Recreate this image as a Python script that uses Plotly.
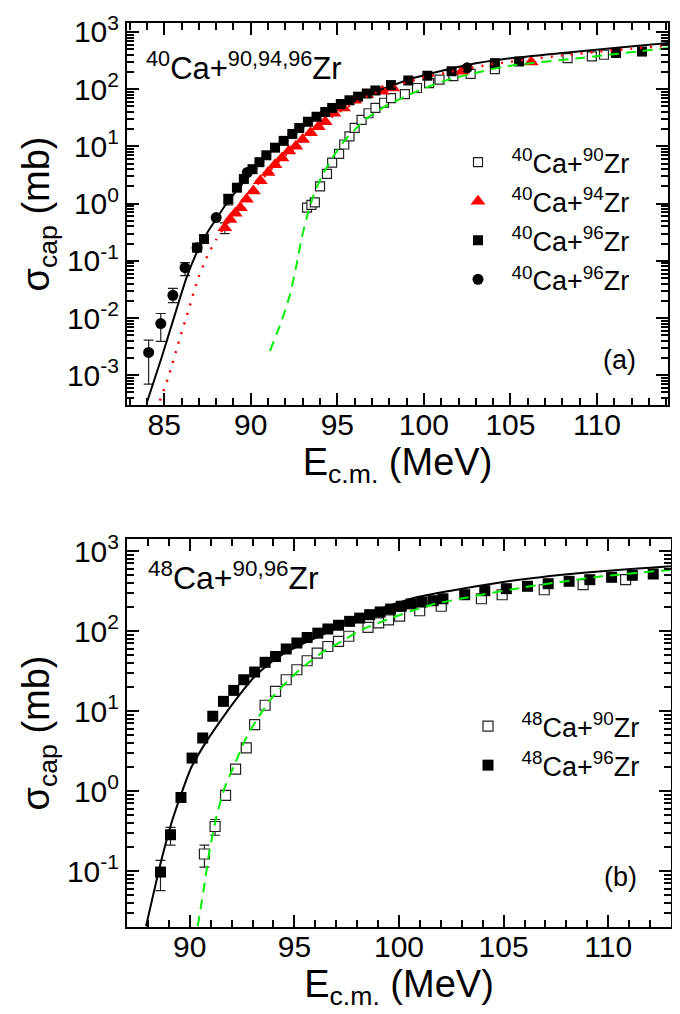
import plotly.graph_objects as go

# ---------------- Panel (a): 40Ca + 90,94,96Zr ----------------
a_zr90_E = [93.25, 93.5, 93.7, 94.0, 94.4, 94.7, 95.1, 95.4, 95.7, 96.0, 96.4, 96.8, 97.2,
            97.7, 98.1, 98.9, 99.6, 100.3, 100.9, 101.7, 102.7, 104.1, 108.3, 109.7, 110.4]
a_zr90_s = [0.85, 0.95, 1.05, 2.0, 3.3, 5.2, 7.4, 10.8, 15, 21, 29, 38, 47,
            58, 70, 82, 105, 128, 147, 169, 185, 225, 350, 376, 400]

a_zr94_E = [88.5, 88.8, 89.1, 89.4, 89.75, 90.15, 90.55, 91.0, 91.4, 91.8, 92.2, 92.6, 93.0,
            93.45, 93.9, 94.3, 94.8, 95.35, 96.0, 96.7, 97.6, 98.2, 102.2, 106.2]
a_zr94_s = [0.38, 0.53, 0.68, 0.85, 1.19, 1.66, 2.5, 3.5, 4.8, 6.3, 8.3, 10.1, 13.2,
            17.3, 22, 27, 38, 47, 64, 80, 92, 105, 206, 300]
a_zr94_ep = [0.08] + [0] * 23
a_zr94_em = [0.08] + [0] * 23

a_zr96sq_E = [86.9, 87.3, 88.7, 89.2, 89.6, 90.1, 90.5, 90.9, 91.4, 91.9, 92.4, 92.8, 93.3,
              93.8, 94.3, 94.7, 95.2, 95.7, 96.2, 96.7, 97.2, 98.1, 99.1, 100.2, 101.6,
              104.1, 105.5, 111.1, 112.6]
a_zr96sq_s = [0.17, 0.24, 1.2, 1.9, 2.7, 4.0, 5.3, 7.0, 9.5, 12.5, 16.5, 21, 27,
              33, 40, 47, 55, 64, 74, 84, 95, 118, 142, 172, 206,
              285, 305, 430, 455]
a_zr96sq_ep = [0, 0, 0.25] + [0] * 26
a_zr96sq_em = [0, 0, 0.25] + [0] * 26

a_zr96ci_E = [84.1, 84.8, 85.5, 86.2, 86.9, 88.0, 89.8, 102.5]
a_zr96ci_s = [0.0025, 0.008, 0.025, 0.076, 0.17, 0.57, 3.5, 236]
a_zr96ci_ep = [0.0016, 0.004, 0.008, 0.017, 0.02, 0, 0, 0]
a_zr96ci_em = [0.0018, 0.0041, 0.0064, 0.021, 0.02, 0, 0, 0]

# theory curves (a)
a_th96_E = [83.98, 84.84, 85.62, 86.29, 86.97, 87.54, 88.12, 88.7, 89.5, 90.5, 91.5, 92.5,
            93.5, 94.5, 95.5, 96.5, 97.5, 99.5, 102.5, 105.0, 108.0, 111.0, 114.1]
a_th96_s = [3.2e-4, 2.0e-3, 0.0116, 0.051, 0.16, 0.33, 0.61, 1.11, 2.2, 5.2, 10, 17,
            27, 40, 56, 76, 98, 160, 265, 347, 430, 525, 645]

a_th94_E = [84.75, 85.23, 85.8, 86.39, 86.97, 87.54, 88.02, 88.5, 89.0, 89.5, 90.0, 90.5,
            91.0, 91.5, 92.0, 92.5, 93.0, 93.5, 94.0, 94.5, 95.0, 95.5, 96.0, 96.5, 97.0,
            98.0, 99.0, 100.0, 102.0, 104.0, 106.0, 108.0, 110.0, 112.0, 114.1]
a_th94_s = [3.6e-4, 9.1e-4, 3.5e-3, 0.0133, 0.051, 0.13, 0.24, 0.4, 0.65, 1.0, 1.5, 2.4,
            3.5, 5.0, 7.0, 9.5, 13, 17.5, 23, 30, 38, 47, 58, 70, 82,
            105, 132, 160, 215, 275, 330, 390, 450, 510, 580]

a_th90_E = [91.11, 91.78, 92.27, 92.65, 92.94, 93.23, 93.61, 94.1, 94.7, 95.4, 96.21, 96.6,
            97.76, 98.72, 100.07, 101.4, 102.96, 104.7, 109.1, 114.1]
a_th90_s = [2.67e-3, 0.0089, 0.026, 0.087, 0.25, 0.57, 1.36, 3.0, 6.2, 12.5, 22.6, 29.5,
            50, 70, 105, 147, 192, 251, 352, 525]

# ---------------- Panel (b): 48Ca + 90,96Zr ----------------
b_zr96_E = [88.6, 89.08, 89.58, 90.11, 90.62, 91.1, 91.61, 92.1, 92.58, 93.1, 93.6, 94.1,
            94.61, 95.12, 95.61, 96.12, 96.6, 97.11, 97.64, 98.12, 98.6, 99.1, 99.6, 100.11,
            100.59, 101.1, 101.63, 102.1, 103.14, 104.1, 105.13, 106.14, 107.13, 108.13,
            109.12, 110.16, 111.15, 112.15]
b_zr96_s = [0.097, 0.284, 0.83, 2.58, 4.6, 8.6, 13.2, 18.1, 24.6, 30.7, 40.6, 48,
            59.6, 70.8, 83, 94, 106, 118, 132, 145, 160, 173, 188, 204,
            218, 230, 239, 253, 284, 319, 338, 362, 390, 418,
            438, 469, 497, 516]
b_zr96_ep = [0.039, 0.066] + [0] * 36
b_zr96_em = [0.040, 0.074] + [0] * 36

b_zr90_E = [90.7, 91.21, 91.71, 92.19, 92.7, 93.1, 93.6, 94.1, 94.61, 95.12, 95.61, 96.09,
            96.6, 97.11, 97.6, 98.52, 99.03, 99.5, 100.03, 100.99, 102.02, 103.94, 104.93,
            106.94, 108.8, 110.83]
b_zr90_s = [0.163, 0.36, 0.88, 1.88, 3.45, 6.75, 11.8, 17.6, 24.6, 32.8, 42.5, 53,
            64, 74, 86, 111, 126, 138, 153, 179, 204, 253, 284,
            328, 380, 438]
b_zr90_ep = [0.047, 0.08] + [0] * 24
b_zr90_em = [0.051, 0.08] + [0] * 24

b_th96_E = [87.91, 88.63, 89.1, 89.58, 90.06, 90.7, 91.34, 92.14, 93.1, 94.21, 95.49, 96.76,
            97.56, 98.04, 100.75, 105.2, 108.7, 113.0]
b_th96_s = [0.0204, 0.132, 0.38, 0.9, 1.94, 3.8, 6.75, 13.2, 27, 47, 71, 101,
            138, 152, 260, 418, 531, 643]

b_th90_E = [90.38, 90.7, 90.94, 91.26, 91.66, 92.14, 92.62, 93.25, 94.05, 95.17, 96.28, 97.4,
            98.04, 99.63, 101.55, 106.0, 109.68, 112.55, 113.0]
b_th90_s = [0.0204, 0.067, 0.176, 0.46, 1.09, 2.13, 4.2, 8.2, 16, 31.3, 53, 78,
            99, 145, 213, 352, 482, 567, 580]

xticks_a = [85, 90, 95, 100, 105, 110]
xticks_b = [90, 95, 100, 105, 110]
ydec_a = [-3, -2, -1, 0, 1, 2, 3]
ydec_b = [-1, 0, 1, 2, 3]

FONT = "Liberation Sans, Arial, sans-serif"
GREEN = "#00ee00"
RED = "#ff0000"

fig = go.Figure()

def eb(p, m):
    return dict(type="data", array=p, arrayminus=m, color="#222222", thickness=1.2, width=5)

# --- panel (a) markers ---
fig.add_trace(go.Scatter(x=a_zr90_E, y=a_zr90_s, mode="markers", name="\u2002<sup>40</sup>Ca+<sup>90</sup>Zr",
                         marker=dict(symbol="square", size=9, color="white", line=dict(color="#222222", width=1.2)),
                         legendgroup="a1", legend="legend", xaxis="x", yaxis="y"))
fig.add_trace(go.Scatter(x=a_zr94_E, y=a_zr94_s, mode="markers", name="\u2002<sup>40</sup>Ca+<sup>94</sup>Zr",
                         marker=dict(symbol="triangle-up", size=13, color=RED, line=dict(width=0)),
                         error_y=eb(a_zr94_ep, a_zr94_em),
                         legendgroup="a2", legend="legend", xaxis="x", yaxis="y"))
fig.add_trace(go.Scatter(x=a_zr96sq_E, y=a_zr96sq_s, mode="markers", name="\u2002<sup>40</sup>Ca+<sup>96</sup>Zr",
                         marker=dict(symbol="square", size=10, color="black", line=dict(width=0)),
                         error_y=eb(a_zr96sq_ep, a_zr96sq_em),
                         legendgroup="a3", legend="legend", xaxis="x", yaxis="y"))
fig.add_trace(go.Scatter(x=a_zr96ci_E, y=a_zr96ci_s, mode="markers", name="\u2002<sup>40</sup>Ca+<sup>96</sup>Zr",
                         marker=dict(symbol="circle", size=11, color="black", line=dict(width=0)),
                         error_y=eb(a_zr96ci_ep, a_zr96ci_em),
                         legendgroup="a4", legend="legend", xaxis="x", yaxis="y"))
# --- panel (a) curves ---
fig.add_trace(go.Scatter(x=a_th96_E, y=a_th96_s, mode="lines", line=dict(color="black", width=2, shape="spline", smoothing=0.6),
                         showlegend=False, xaxis="x", yaxis="y"))
fig.add_trace(go.Scatter(x=a_th94_E, y=a_th94_s, mode="lines", line=dict(color=RED, width=2.5, dash="2px,8px", shape="spline", smoothing=0.6),
                         showlegend=False, xaxis="x", yaxis="y"))
fig.add_trace(go.Scatter(x=a_th90_E, y=a_th90_s, mode="lines", line=dict(color=GREEN, width=2, dash="10px,7px", shape="spline", smoothing=0.6),
                         showlegend=False, xaxis="x", yaxis="y"))

# --- panel (b) markers ---
fig.add_trace(go.Scatter(x=b_zr90_E, y=b_zr90_s, mode="markers", name="\u2002<sup>48</sup>Ca+<sup>90</sup>Zr",
                         marker=dict(symbol="square", size=10, color="white", line=dict(color="#222222", width=1.2)),
                         error_y=eb(b_zr90_ep, b_zr90_em),
                         legendgroup="b1", legend="legend2", xaxis="x2", yaxis="y2"))
fig.add_trace(go.Scatter(x=b_zr96_E, y=b_zr96_s, mode="markers", name="\u2002<sup>48</sup>Ca+<sup>96</sup>Zr",
                         marker=dict(symbol="square", size=11, color="black", line=dict(width=0)),
                         error_y=eb(b_zr96_ep, b_zr96_em),
                         legendgroup="b2", legend="legend2", xaxis="x2", yaxis="y2"))
fig.add_trace(go.Scatter(x=b_th96_E, y=b_th96_s, mode="lines", line=dict(color="black", width=2, shape="spline", smoothing=0.6),
                         showlegend=False, xaxis="x2", yaxis="y2"))
fig.add_trace(go.Scatter(x=b_th90_E, y=b_th90_s, mode="lines", line=dict(color=GREEN, width=2, dash="10px,7px", shape="spline", smoothing=0.6),
                         showlegend=False, xaxis="x2", yaxis="y2"))

W, H = 680, 1014

def px_x(p):
    return p / W

def px_y(p):
    return 1 - p / H

def minor_log(decs):
    vals = []
    for d in range(decs[0] - 1, decs[-1] + 1):
        for m in range(2, 10):
            vals.append(m * 10 ** d)
    return vals

common_axis = dict(showline=True, linewidth=2, linecolor="black", mirror="ticks",
                   ticks="inside", ticklen=12, tickwidth=2, tickcolor="black",
                   showgrid=False, zeroline=False, automargin=False,
                   tickfont=dict(family=FONT, size=30, color="black"))

TITLE_FONT = dict(family=FONT, size=38, color="black")

xaxis_a = dict(common_axis, domain=[px_x(119), px_x(660)], range=[82.85, 114.1],
               tickmode="array", tickvals=xticks_a, ticktext=[str(v) for v in xticks_a],
               ticklabelstandoff=-8,
               minor=dict(ticks="inside", ticklen=7, tickwidth=1.5, tickcolor="black", dtick=1, tick0=80),
               title=dict(text="E<sub>c.m.</sub> (MeV)", font=TITLE_FONT, standoff=4),
               anchor="y")
yaxis_a = dict(common_axis, type="log", domain=[px_y(397), px_y(15)], range=[-3.52, 3.157],
               tickmode="array", tickvals=[10 ** d for d in ydec_a],
               ticktext=["10<sup>%d</sup>" % d for d in ydec_a],
               minor=dict(ticks="inside", ticklen=7, tickwidth=1.5, tickcolor="black",
                          tickmode="array", tickvals=minor_log(ydec_a)),
               title=dict(text="σ<sub>cap</sub> (mb)", font=TITLE_FONT, standoff=6),
               anchor="x")
xaxis_b = dict(common_axis, domain=[px_x(119), px_x(663)], range=[87.0, 113.0],
               tickmode="array", tickvals=xticks_b, ticktext=[str(v) for v in xticks_b],
               ticklabelstandoff=-8,
               minor=dict(ticks="inside", ticklen=7, tickwidth=1.5, tickcolor="black", dtick=1, tick0=80),
               title=dict(text="E<sub>c.m.</sub> (MeV)", font=TITLE_FONT, standoff=4),
               anchor="y2")
yaxis_b = dict(common_axis, type="log", domain=[px_y(919), px_y(531)], range=[-1.7, 3.15],
               tickmode="array", tickvals=[10 ** d for d in ydec_b],
               ticktext=["10<sup>%d</sup>" % d for d in ydec_b],
               minor=dict(ticks="inside", ticklen=7, tickwidth=1.5, tickcolor="black",
                          tickmode="array", tickvals=minor_log(ydec_b)),
               title=dict(text="σ<sub>cap</sub> (mb)", font=TITLE_FONT, standoff=6),
               anchor="x2")

legend_common = dict(font=dict(family=FONT, size=27, color="black"), bgcolor="rgba(0,0,0,0)",
                     borderwidth=0, xanchor="left", yanchor="top", tracegroupgap=1,
                     itemsizing="trace")

fig.update_layout(
    width=W, height=H, margin=dict(l=0, r=0, t=0, b=0),
    paper_bgcolor="white", plot_bgcolor="white",
    font=dict(family=FONT, color="black"),
    xaxis=xaxis_a, yaxis=yaxis_a, xaxis2=xaxis_b, yaxis2=yaxis_b,
    legend=dict(legend_common, x=px_x(450), y=px_y(130)),
    legend2=dict(legend_common, x=px_x(460), y=px_y(694)),
    annotations=[
        dict(text="<sup>40</sup>Ca+<sup>90,94,96</sup>Zr", x=px_x(136), y=px_y(58), xref="paper", yref="paper",
             xanchor="left", yanchor="middle", showarrow=False, font=dict(family=FONT, size=31, color="black")),
        dict(text="(a)", x=px_x(611), y=px_y(352), xref="paper", yref="paper",
             xanchor="center", yanchor="middle", showarrow=False, font=dict(family=FONT, size=27, color="black")),
        dict(text="<sup>48</sup>Ca+<sup>90,96</sup>Zr", x=px_x(138), y=px_y(568), xref="paper", yref="paper",
             xanchor="left", yanchor="middle", showarrow=False, font=dict(family=FONT, size=32, color="black")),
        dict(text="(b)", x=px_x(612), y=px_y(869), xref="paper", yref="paper",
             xanchor="center", yanchor="middle", showarrow=False, font=dict(family=FONT, size=27, color="black")),
    ],
)

fig.write_html("out.html")
